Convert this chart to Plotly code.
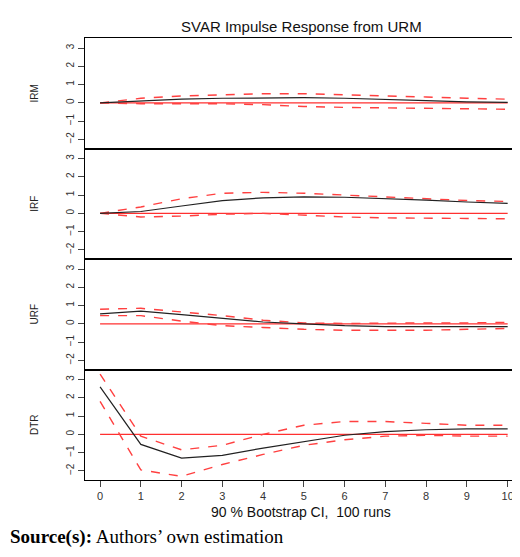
import plotly.graph_objects as go
from plotly.subplots import make_subplots

steps = list(range(11))
names = ["IRM", "IRF", "URF", "DTR"]
mean = {
    "IRM": [0, 0.1, 0.2, 0.25, 0.28, 0.28, 0.25, 0.2, 0.12, 0.05, 0.02],
    "IRF": [0, 0.1, 0.4, 0.7, 0.85, 0.9, 0.88, 0.82, 0.72, 0.62, 0.55],
    "URF": [0.55, 0.7, 0.5, 0.3, 0.1, 0, -0.1, -0.15, -0.15, -0.15, -0.15],
    "DTR": [2.6, -0.55, -1.3, -1.15, -0.75, -0.4, -0.05, 0.15, 0.25, 0.3, 0.3],
}
upper = {
    "IRM": [0, 0.25, 0.38, 0.45, 0.5, 0.5, 0.45, 0.4, 0.32, 0.25, 0.2],
    "IRF": [0, 0.35, 0.8, 1.1, 1.15, 1.1, 1.0, 0.9, 0.78, 0.7, 0.65],
    "URF": [0.8, 0.85, 0.65, 0.45, 0.2, 0.05, 0.02, 0.05, 0.05, 0.05, 0.08],
    "DTR": [3.3, -0.1, -0.85, -0.6, 0, 0.5, 0.7, 0.7, 0.6, 0.5, 0.5],
}
lower = {
    "IRM": [0, -0.05, -0.05, -0.05, -0.1, -0.2, -0.25, -0.28, -0.3, -0.32, -0.35],
    "IRF": [0, -0.2, -0.15, -0.05, 0, -0.1, -0.2, -0.25, -0.25, -0.28, -0.3],
    "URF": [0.45, 0.45, 0.15, -0.1, -0.2, -0.3, -0.35, -0.35, -0.35, -0.3, -0.25],
    "DTR": [1.8, -1.95, -2.3, -1.65, -1.1, -0.6, -0.3, -0.1, -0.05, -0.1, -0.1],
}
yticks = [-2, -1, 0, 1, 2, 3]

fig = make_subplots(rows=4, cols=1, shared_xaxes=True, vertical_spacing=0)
for i, n in enumerate(names, start=1):
    fig.add_trace(go.Scatter(x=steps, y=[0]*11, mode="lines",
                             line=dict(color="#ff3030", width=1.3)), row=i, col=1)
    for band in (upper[n], lower[n]):
        fig.add_trace(go.Scatter(x=steps, y=band, mode="lines",
                                 line=dict(color="#ff4040", width=1.4, dash="dash")), row=i, col=1)
    fig.add_trace(go.Scatter(x=steps, y=mean[n], mode="lines",
                             line=dict(color="#222222", width=1.2)), row=i, col=1)
    fig.update_yaxes(range=[-2.5, 3.55], tickvals=yticks,
                     ticktext=[str(v).replace("-", "−") for v in yticks],
                     tickangle=-90, ticks="outside", ticklen=6, automargin=False,
                     showline=True, linecolor="black", mirror=True, showgrid=False,
                     zeroline=False, tickfont=dict(family="Liberation Sans", size=10, color="#333"),
                     title=dict(text=n, font=dict(family="Liberation Sans", size=10, color="#222"),
                                standoff=24), row=i, col=1)
    fig.update_xaxes(range=[-0.37, 10.45], tickvals=steps, showgrid=False, zeroline=False,
                     automargin=False,
                     showline=True, linecolor="black", mirror=True, row=i, col=1)

fig.update_xaxes(ticks="outside", ticklen=6, showticklabels=True,
                 tickfont=dict(family="Liberation Sans", size=11, color="#333"), row=4, col=1)
fig.update_layout(
    width=520, height=557, showlegend=False,
    plot_bgcolor="white", paper_bgcolor="white",
    margin=dict(l=77, r=2, t=30, b=85),
    annotations=[
        dict(text="SVAR Impulse Response from URM", x=0.49, y=1.0, xref="paper", yref="paper",
             yshift=22, showarrow=False, font=dict(family="Liberation Sans", size=15, color="#111")),
        dict(text="90 % Bootstrap CI,  100 runs", x=0.49, y=0, xref="paper", yref="paper",
             yshift=-42, showarrow=False, font=dict(family="Liberation Sans", size=14, color="#111")),
        dict(text="<b>Source(s):</b> Authors’ own estimation", x=-0.175, y=0, xref="paper",
             yref="paper", yshift=-70, xanchor="left", showarrow=False,
             font=dict(family="Liberation Serif", size=19, color="black")),
    ],
)
fig.write_html("out.html")
